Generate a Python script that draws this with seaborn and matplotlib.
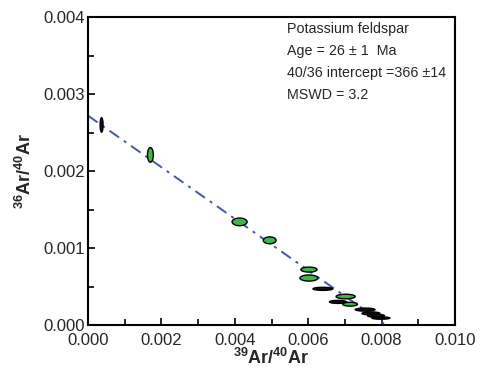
import matplotlib
matplotlib.use("Agg")
import matplotlib.pyplot as plt
from matplotlib.patches import Ellipse
from matplotlib.ticker import MultipleLocator, FormatStrFormatter
import numpy as np
import pandas as pd
import seaborn as sns

# ---- data ----
x39_40 = [0.00037, 0.00170, 0.00413, 0.00495, 0.00602, 0.00602, 0.00640, 0.00702,
          0.00681, 0.00714, 0.00755, 0.00771, 0.00785, 0.00798]
y36_40 = [0.00260, 0.00221, 0.00134, 0.00110, 0.00072, 0.00061, 0.00047, 0.00037,
          0.00030, 0.00027, 0.00020, 0.00015, 0.00012, 0.00009]
err_x = [0.00008, 0.00016, 0.00041, 0.00035, 0.00044, 0.00049, 0.00054, 0.00052,
         0.00046, 0.00040, 0.00054, 0.00049, 0.00046, 0.00049]
err_y = [0.00019, 0.00019, 0.00010, 0.00009, 0.000065, 0.00008, 0.00004, 0.00006,
         0.00004, 0.00005, 0.00004, 0.00004, 0.00004, 0.00003]
filled = ["black", "green", "green", "green", "green", "green", "black", "green",
          "black", "green", "black", "black", "black", "black"]

intercept_y = 0.00272
x_intercept = 0.00812
line_x = [0.0, x_intercept]
line_y = [intercept_y, 0.0]

info_lines = ["Potassium feldspar", "Age = 26 \u00b1 1  Ma",
              "40/36 intercept =366 \u00b114", "MSWD = 3.2"]

# ---- style ----
sns.set_style("ticks")
plt.rcParams["font.family"] = ["Liberation Sans", "DejaVu Sans"]
plt.rcParams["mathtext.fontset"] = "custom"
plt.rcParams["mathtext.rm"] = "Liberation Sans"
plt.rcParams["mathtext.bf"] = "Liberation Sans:bold"

fig = plt.figure(figsize=(4.82, 3.81), dpi=100)
ax = fig.add_axes([0.1826, 0.147, 0.7614, 0.808])

line_df = pd.DataFrame({"x": line_x, "y": line_y})
sns.lineplot(data=line_df, x="x", y="y", ax=ax, color="#4257a8",
             linewidth=1.4, linestyle=(0, (6, 3, 1.5, 3)), zorder=2)

colors = {"green": "#3fb54a", "black": "#111111"}
for xi, yi, wx, hy, c in zip(x39_40, y36_40, err_x, err_y, filled):
    ax.add_patch(Ellipse((xi, yi), wx, hy, facecolor=colors[c],
                         edgecolor="black", linewidth=1.0, zorder=3))

ax.set_xlim(0, 0.010)
ax.set_ylim(0, 0.004)
ax.xaxis.set_major_locator(MultipleLocator(0.002))
ax.xaxis.set_minor_locator(MultipleLocator(0.001))
ax.yaxis.set_major_locator(MultipleLocator(0.001))
ax.yaxis.set_minor_locator(MultipleLocator(0.0005))
ax.xaxis.set_major_formatter(FormatStrFormatter("%.3f"))
ax.yaxis.set_major_formatter(FormatStrFormatter("%.3f"))
ax.tick_params(which="both", direction="in", top=False, right=False,
               labelsize=12, width=1.2, color="black")
ax.tick_params(which="major", length=5)
ax.tick_params(which="minor", length=4)
ax.tick_params(axis="x", which="major", pad=6)
ax.tick_params(axis="y", which="major", pad=2)
for s in ax.spines.values():
    s.set_linewidth(1.5)
    s.set_color("black")

ax.set_xlabel(r"$^{\mathbf{39}}$Ar/$^{\mathbf{40}}$Ar", fontsize=13,
              fontweight="bold", labelpad=0)
ax.set_ylabel(r"$^{\mathbf{36}}$Ar/$^{\mathbf{40}}$Ar", fontsize=13,
              fontweight="bold", labelpad=6)

for i, t in enumerate(info_lines):
    ax.text(0.543, 0.962 - i * 0.0715, t, transform=ax.transAxes,
            fontsize=10.3, va="center", ha="left")

fig.savefig("out.png", dpi=100)
